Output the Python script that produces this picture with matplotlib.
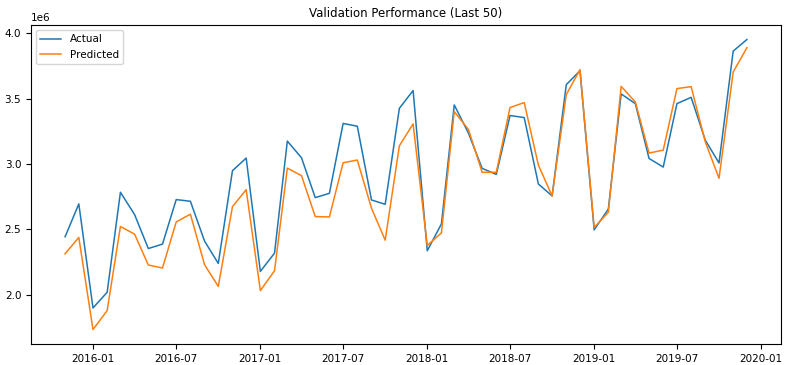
import pandas as pd
import matplotlib
matplotlib.use("Agg")
import matplotlib.pyplot as plt

dates = pd.date_range("2015-11-01", periods=50, freq="MS")

actual = [2.443, 2.695, 1.898, 2.018, 2.784, 2.613, 2.353, 2.387, 2.728, 2.715,
          2.410, 2.239, 2.949, 3.046, 2.178, 2.318, 3.176, 3.048, 2.743, 2.776,
          3.311, 3.290, 2.725, 2.692, 3.427, 3.563, 2.336, 2.542, 3.453, 3.237,
          2.967, 2.921, 3.372, 3.356, 2.847, 2.756, 3.608, 3.715, 2.496, 2.656,
          3.537, 3.463, 3.043, 2.977, 3.463, 3.511, 3.183, 3.008, 3.865, 3.954]

predicted = [2.313, 2.438, 1.733, 1.878, 2.522, 2.463, 2.227, 2.204, 2.557, 2.616,
             2.229, 2.063, 2.674, 2.804, 2.031, 2.183, 2.969, 2.911, 2.598, 2.595,
             3.010, 3.031, 2.662, 2.417, 3.140, 3.308, 2.376, 2.473, 3.402, 3.265,
             2.937, 2.937, 3.433, 3.471, 2.992, 2.756, 3.532, 3.723, 2.514, 2.631,
             3.595, 3.476, 3.084, 3.107, 3.578, 3.593, 3.170, 2.891, 3.705, 3.891]

actual = [v * 1e6 for v in actual]
predicted = [v * 1e6 for v in predicted]

plt.rcParams["font.size"] = 7.5
fig = plt.figure(figsize=(7.98, 3.65), dpi=100)
ax = fig.add_axes([31 / 798, 21 / 365, 750 / 798, 319 / 365])
ax.plot(dates, actual, label="Actual", lw=1.1)
ax.plot(dates, predicted, label="Predicted", lw=1.1)
ax.set_title("Validation Performance (Last 50)", fontsize=8.5)
ax.legend(loc="upper left")
fig.savefig("out.png", dpi=100)
